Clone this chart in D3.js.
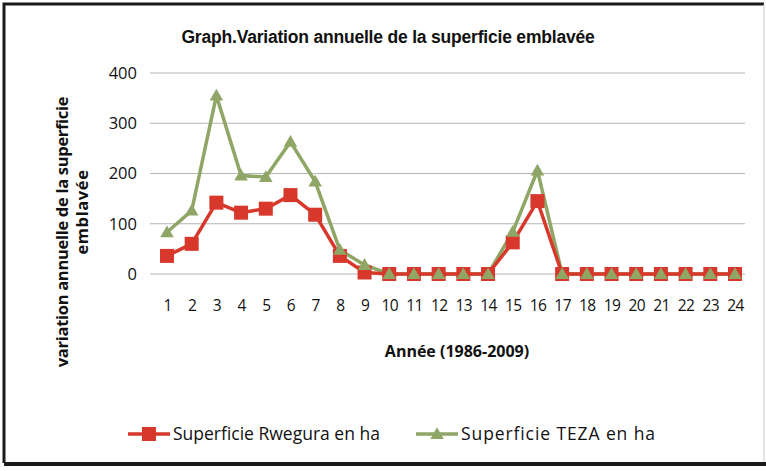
<!DOCTYPE html>
<html>
<head>
<meta charset="utf-8">
<script src="https://cdn.jsdelivr.net/npm/d3@7"></script>
<style>
  body { margin: 0; background: #fff; }
  svg { display: block; }
</style>
</head>
<body>
<div id="chart"></div>
<script>
const years = d3.range(1, 25);
const rwegura = [36, 60, 142, 122, 130, 157, 118, 36, 3, 0, 0, 0, 0, 0, 63, 145, 0, 0, 0, 0, 0, 0, 0, 0];
const teza = [83, 126, 355, 196, 193, 263, 184, 48, 18, 0, 0, 0, 0, 0, 84, 206, 0, 0, 0, 0, 0, 0, 0, 0];
const yTicks = [0, 100, 200, 300, 400];

const width = 766, height = 471;
const red = "#d7382b", green = "#8fa666";

const svg = d3.select("#chart").append("svg")
    .attr("width", width)
    .attr("height", height);

// frame
svg.append("rect").attr("x", 0).attr("y", 0).attr("width", width).attr("height", height).attr("fill", "#fff");
svg.append("path")
    .attr("d", "M4,463 L4,4 L764,4")
    .attr("fill", "none").attr("stroke", "#1a1a1a").attr("stroke-width", 3);
svg.append("line").attr("x1", 4).attr("x2", 766).attr("y1", 464).attr("y2", 464)
    .attr("stroke", "#1a1a1a").attr("stroke-width", 4);
svg.append("line").attr("x1", 764).attr("x2", 764).attr("y1", 4).attr("y2", 462)
    .attr("stroke", "#ccc").attr("stroke-width", 1);

const x = d3.scalePoint().domain(years).range([167, 735]);
const y = d3.scaleLinear().domain([0, 400]).range([274, 73]);

// gridlines
svg.append("g")
    .selectAll("line")
    .data(yTicks)
    .enter().append("line")
    .attr("x1", 150).attr("x2", 745)
    .attr("y1", d => y(d)).attr("y2", d => y(d))
    .attr("stroke", "#b5b5b5").attr("stroke-width", 1);

// y axis labels
const yAxis = svg.append("g")
    .attr("transform", "translate(137,0)")
    .call(d3.axisLeft(y).tickValues(yTicks).tickSize(0).tickPadding(0));
yAxis.select(".domain").remove();
yAxis.selectAll("text")
    .attr("font-family", "Open Sans, sans-serif")
    .attr("font-size", 16.5)
    .attr("fill", "#111");

// x axis labels
const xAxis = svg.append("g")
    .attr("transform", "translate(0,300)")
    .call(d3.axisBottom(x).tickSize(0).tickPadding(0));
xAxis.select(".domain").remove();
xAxis.selectAll("text")
    .attr("font-family", "Open Sans, sans-serif")
    .attr("font-size", 15.5)
    .attr("letter-spacing", "-0.6")
    .attr("fill", "#111");

// lines
const line = d3.line().x((d, i) => x(years[i])).y(d => y(d));

svg.append("path").datum(teza)
    .attr("d", line).attr("fill", "none")
    .attr("stroke", green).attr("stroke-width", 3.5).attr("stroke-linejoin", "round");

svg.append("path").datum(rwegura)
    .attr("d", line).attr("fill", "none")
    .attr("stroke", red).attr("stroke-width", 3.5).attr("stroke-linejoin", "round");

svg.append("g").selectAll("rect")
    .data(rwegura)
    .enter().append("rect")
    .attr("x", (d, i) => x(years[i]) - 7)
    .attr("y", d => y(d) - 7)
    .attr("width", 14).attr("height", 14)
    .attr("fill", red);

const tri = d3.symbol().type(d3.symbolTriangle).size(80);
svg.append("g").selectAll("path")
    .data(teza)
    .enter().append("path")
    .attr("d", tri)
    .attr("transform", (d, i) => `translate(${x(years[i])},${y(d) + 1})`)
    .attr("fill", green);

// title
svg.append("text")
    .attr("x", 388).attr("y", 43)
    .attr("text-anchor", "middle")
    .attr("font-family", "Liberation Sans Narrow, Arial Narrow, sans-serif")
    .attr("font-weight", "bold")
    .attr("font-size", 17.5)
    .attr("letter-spacing", "-0.2")
    .attr("fill", "#111")
    .text("Graph.Variation annuelle de la superficie emblavée");

// y title
const yTitle = svg.append("text")
    .attr("transform", "translate(68,232) rotate(-90)")
    .attr("text-anchor", "middle")
    .attr("font-family", "Open Sans, sans-serif")
    .attr("font-weight", "bold")
    .attr("font-size", 16.5)
    .attr("letter-spacing", "-0.3")
    .attr("fill", "#111");
yTitle.append("tspan").attr("x", 0).attr("dy", 0).text("variation annuelle de la superficie");
yTitle.append("tspan").attr("x", 20).attr("dy", 20).attr("letter-spacing", "0.6").text("emblavée");

// x title
svg.append("text")
    .attr("x", 457).attr("y", 357)
    .attr("text-anchor", "middle")
    .attr("font-family", "Open Sans, sans-serif")
    .attr("font-weight", "bold")
    .attr("font-size", 16)
    .attr("fill", "#111")
    .text("Année (1986-2009)");

// legend
const legend = [
    { name: "Superficie Rwegura en ha", color: red, x: 128, shape: "square" },
    { name: "Superficie TEZA en ha", color: green, x: 416, shape: "triangle" }
];
const lg = svg.append("g").selectAll("g")
    .data(legend)
    .enter().append("g")
    .attr("transform", d => `translate(${d.x},434)`);
lg.append("line").attr("x1", 0).attr("x2", 42).attr("y1", 0).attr("y2", 0)
    .attr("stroke", d => d.color).attr("stroke-width", 3.5);
lg.filter(d => d.shape === "square").append("rect")
    .attr("x", 14).attr("y", -7).attr("width", 14).attr("height", 14)
    .attr("fill", d => d.color);
lg.filter(d => d.shape === "triangle").append("path")
    .attr("d", tri).attr("transform", "translate(21,1)")
    .attr("fill", d => d.color);
lg.append("text")
    .attr("x", 45).attr("y", 6)
    .attr("font-family", "Open Sans, sans-serif")
    .attr("font-size", 17.5)
    .attr("letter-spacing", d => d.shape === "triangle" ? "0.9" : "0")
    .attr("fill", "#111")
    .text(d => d.name);
</script>
</body>
</html>
